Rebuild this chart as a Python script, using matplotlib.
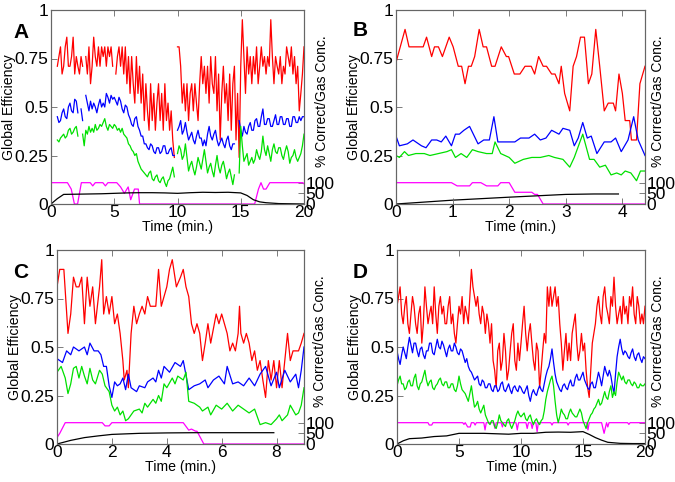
import numpy as np
import matplotlib
matplotlib.use("Agg")
import matplotlib.pyplot as plt

plt.rcParams['font.family'] = ['Liberation Sans', 'DejaVu Sans']
nan = np.nan

# ---------------- Panel A (0.5-20 min, sampled every 0.125 min) ----------------
a_start, a_end = 0.5, 20.0
a_red = [0.71, 0.76, 0.81, 0.67, 0.71, 0.81, 0.86, 0.71, 0.71, 0.76, 0.86, 0.67, 0.76, 0.71, 0.67, 0.76, 0.71,
         nan, 0.76, 0.67, 0.81, 0.62, 0.71, 0.86, 0.76, 0.71, 0.81, 0.71, 0.81, 0.76, 0.81, 0.71, 0.81, 0.76, 0.81, 0.71, nan,
         0.67, 0.76, 0.81, 0.71, 0.81, 0.67, 0.81, 0.62, 0.76, 0.57, 0.76, 0.62, 0.52, 0.76, 0.57, 0.71, 0.52, 0.67, 0.43, 0.62,
         0.48, 0.38, 0.62, 0.43, 0.57, 0.38, 0.52, 0.62, 0.43, 0.57, 0.38, 0.62, 0.43, 0.52, 0.38, 0.48, 0.33, 0.24, nan,
         0.81, 0.81, 0.71, 0.52, 0.62, 0.48, 0.62, 0.43, 0.57, 0.62, 0.48, 0.62, 0.52, 0.43, 0.62, 0.76, 0.62, 0.71, 0.57, 0.71,
         0.52, 0.76, 0.62, 0.57, 0.76, 0.48, 0.67, 0.33, 0.57, 0.71, 0.52, 0.62, 0.43, 0.67, 0.38, 0.62, 0.71, 0.33, 0.57, 0.24, 0.71,
         0.95, 0.76, 0.57, 0.81, 0.67, 0.76, 0.62, 0.76, 0.67, 0.81, 0.62, 0.71, 0.81, 0.71, 0.76, 0.67, 0.76, 0.71, 0.95, 0.76,
         0.62, 0.76, 0.71, 0.67, 0.76, 0.62, 0.71, 0.67, 0.81, 0.76, 0.71, 0.81, 0.67, 0.76, 0.62, 0.71, 0.48, 0.57, 0.67, 0.81]
a_blue = [0.45, 0.42, 0.43, 0.47, 0.49, 0.45, 0.44, 0.50, 0.52, 0.48, 0.47, 0.54, 0.53, 0.47, nan, 0.49, 0.43,
          nan, 0.56, 0.52, 0.48, 0.53, 0.49, 0.52, 0.50, 0.47, 0.51, 0.54, 0.50, 0.52, 0.50, 0.57, 0.55, 0.52, 0.56, 0.54, 0.55,
          0.53, 0.51, 0.55, 0.53, 0.49, 0.47, 0.51, 0.50, 0.46, 0.44, 0.41, 0.40, 0.44, 0.45, 0.40, 0.38, 0.35, 0.35, 0.31, 0.31,
          0.29, 0.28, 0.31, 0.30, 0.27, 0.26, 0.29, 0.29, 0.26, 0.27, 0.30, 0.30, 0.26, 0.26, 0.28, 0.29, 0.25, 0.25, nan,
          0.38, 0.40, 0.43, 0.36, 0.38, 0.42, 0.37, 0.33, 0.35, 0.37, 0.33, 0.31, 0.35, 0.38, 0.34, 0.34, 0.30, 0.33, 0.30, 0.36,
          0.40, 0.35, 0.33, 0.36, 0.38, 0.33, 0.30, 0.32, 0.34, 0.31, 0.29, 0.33, 0.35, 0.30, 0.28, 0.31, 0.31, nan, nan, 0.43, 0.38,
          0.35, 0.40, 0.37, 0.36, 0.40, 0.42, 0.38, 0.38, 0.43, 0.44, 0.40, 0.40, 0.45, 0.49, 0.41, 0.41, 0.44, 0.44, 0.40, 0.40,
          0.43, 0.46, 0.41, 0.41, 0.45, 0.45, 0.41, 0.41, 0.44, 0.44, 0.40, 0.40, 0.45, 0.45, 0.42, 0.42, 0.45, 0.43, 0.45, 0.45]
a_green = [0.33, 0.32, 0.34, 0.35, 0.36, 0.34, 0.35, 0.38, 0.39, 0.36, 0.37, 0.39, 0.40, 0.35, nan, nan, 0.36,
           0.30, 0.38, 0.36, 0.40, 0.37, 0.39, 0.37, 0.41, 0.38, 0.39, 0.41, 0.40, 0.42, 0.44, 0.40, 0.38, 0.41, 0.40, 0.39, 0.41,
           0.40, 0.38, 0.39, 0.37, 0.39, 0.36, 0.35, 0.34, 0.31, 0.30, 0.28, 0.27, 0.25, 0.26, 0.22, 0.20, 0.18, 0.17, 0.16, 0.15,
           0.14, 0.16, 0.17, 0.13, 0.12, 0.14, 0.15, 0.12, 0.11, 0.13, 0.14, 0.11, 0.09, 0.12, 0.13, 0.16, 0.19, 0.14, nan,
           0.26, 0.30, 0.28, 0.23, 0.25, 0.31, 0.24, 0.17, 0.20, 0.22, 0.18, 0.15, 0.19, 0.24, 0.21, 0.18, 0.23, 0.28, 0.22, 0.16,
           0.19, 0.21, 0.17, 0.14, 0.20, 0.25, 0.19, 0.16, 0.20, 0.22, 0.18, 0.13, 0.16, 0.18, 0.14, 0.10, 0.15, nan, nan, 0.16, 0.40,
           0.30, 0.22, 0.24, 0.26, 0.20, 0.22, 0.24, 0.21, 0.23, 0.28, 0.25, 0.23, 0.27, 0.35, 0.28, 0.25, 0.30, 0.26, 0.22, 0.28,
           0.31, 0.27, 0.26, 0.29, 0.29, 0.25, 0.23, 0.27, 0.30, 0.27, 0.21, 0.24, 0.25, 0.28, 0.24, 0.22, 0.24, 0.26, 0.30, 0.36]
a_mag_t = [0, 1.3, 1.6, 1.85, 2.1, 2.4, 3.1, 3.3, 3.5, 4.1, 4.3, 4.5, 5.2, 5.5, 5.8,
           6.1, 6.3, 6.6, 6.9, 7.0, 16.1, 16.4, 16.6, 16.8, 17.0, 17.3, 19.9, 20]
a_mag_v = [100, 100, 70, 0, 0, 100, 100, 85, 100, 100, 85, 100, 100, 80, 50,
           80, 20, 70, 70, 0, 0, 70, 100, 70, 70, 100, 100, 95]
a_gas_t = [0, 0.5, 1.0, 2, 3, 4, 5, 6, 7, 8, 9, 10, 11, 12, 13, 14, 15,
           15.5, 16, 16.5, 17, 18, 19, 20]
a_gas_v = [0, 25, 45, 46, 47, 48, 50, 52, 53, 53, 52, 50, 53, 55, 54, 55, 52,
           40, 20, 10, 6, 2, 1, 0]

# ---------------- Panel B (0-4.4 min) ----------------
b_red_t = [0, 0.16, 0.23, 0.48, 0.54, 0.63, 0.68, 0.75, 0.82, 0.94, 1.01, 1.10,
           1.16, 1.22, 1.28, 1.33, 1.39, 1.47, 1.54, 1.60, 1.69, 1.75, 1.86,
           1.95, 1.99, 2.09, 2.19, 2.28, 2.39, 2.45, 2.52, 2.60, 2.66, 2.75,
           2.81, 2.88, 2.92, 2.98, 3.07, 3.13, 3.19, 3.26, 3.33, 3.40, 3.46,
           3.53, 3.60, 3.68, 3.75, 3.84, 3.88, 3.94, 4.00, 4.05, 4.13, 4.16,
           4.25, 4.31, 4.40]
b_red = [0.73, 0.90, 0.81, 0.81, 0.86, 0.76, 0.81, 0.81, 0.76, 0.86, 0.81, 0.71,
         0.71, 0.62, 0.71, 0.71, 0.76, 0.90, 0.81, 0.81, 0.71, 0.71, 0.81,
         0.76, 0.76, 0.67, 0.67, 0.71, 0.71, 0.67, 0.76, 0.71, 0.71, 0.67,
         0.67, 0.62, 0.71, 0.57, 0.48, 0.71, 0.76, 0.86, 0.86, 0.62, 0.67,
         0.90, 0.71, 0.48, 0.52, 0.52, 0.48, 0.67, 0.57, 0.43, 0.43, 0.33,
         0.33, 0.62, 0.71]
b_blue_t = [0, 0.06, 0.2, 0.3, 0.45, 0.53, 0.63, 0.72, 0.8, 0.88, 0.98, 1.05,
            1.12, 1.2, 1.3, 1.45, 1.55, 1.65, 1.73, 1.8, 1.95, 2.1, 2.2, 2.35,
            2.45, 2.55, 2.65, 2.75, 2.88, 2.95, 3.07, 3.15, 3.22, 3.3, 3.38,
            3.45, 3.55, 3.68, 3.8, 3.88, 3.98, 4.1, 4.2, 4.28, 4.4]
b_blue = [0.35, 0.30, 0.31, 0.33, 0.30, 0.29, 0.33, 0.33, 0.32, 0.35, 0.30, 0.36,
          0.36, 0.38, 0.40, 0.31, 0.33, 0.33, 0.45, 0.32, 0.32, 0.32, 0.34, 0.34,
          0.36, 0.33, 0.34, 0.38, 0.36, 0.39, 0.38, 0.30, 0.34, 0.42, 0.34,
          0.35, 0.26, 0.32, 0.32, 0.34, 0.27, 0.33, 0.45, 0.33, 0.25]
b_green_t = [0, 0.06, 0.15, 0.22, 0.35, 0.5, 0.6, 0.75, 0.9, 0.98, 1.05, 1.15,
             1.25, 1.35, 1.45, 1.6, 1.7, 1.75, 1.85, 2.0, 2.1, 2.25, 2.4, 2.55,
             2.7, 2.8, 2.95, 3.07, 3.15, 3.3, 3.42, 3.5, 3.6, 3.7, 3.8, 3.9,
             3.98, 4.05, 4.15, 4.25, 4.32, 4.4]
b_green = [0.25, 0.24, 0.27, 0.25, 0.26, 0.26, 0.25, 0.26, 0.27, 0.28, 0.24, 0.26,
           0.24, 0.28, 0.27, 0.26, 0.26, 0.32, 0.26, 0.24, 0.21, 0.23, 0.24, 0.24,
           0.25, 0.24, 0.23, 0.19, 0.24, 0.36, 0.23, 0.23, 0.19, 0.20, 0.15, 0.16,
           0.15, 0.17, 0.16, 0.12, 0.17, 0.17]
b_mag_t = [0, 0.98, 1.08, 1.3, 1.35, 1.5, 1.6, 1.8, 1.85, 2.0, 2.1, 2.4, 2.45,
           2.5, 2.6, 4.4]
b_mag_v = [100, 100, 85, 85, 100, 100, 85, 85, 100, 100, 55, 55, 45, 45, 0, 0]
b_gas_t = [0, 1, 2, 3, 3.5, 3.93]
b_gas_v = [0, 18, 32, 45, 47, 47]

# ---------------- Panel C (0-9 min) ----------------
c_red_t = [0, 0.1, 0.25, 0.4, 0.5, 0.6, 0.7, 0.8, 0.9, 1.0, 1.1, 1.2, 1.3, 1.4,
           1.55, 1.63, 1.7, 1.8, 1.9, 2.0, 2.1, 2.2, 2.3, 2.4, 2.45, 2.55, 2.6,
           2.7, 2.8, 2.9, 3.0, 3.1, 3.2, 3.3, 3.4, 3.6, 3.7, 3.8, 3.9, 4.0,
           4.1, 4.2, 4.35, 4.5, 4.6, 4.7, 4.8, 4.9, 5.0, 5.1, 5.2, 5.3, 5.4,
           5.5, 5.6, 5.8, 5.9, 6.0, 6.2, 6.3, 6.4, 6.5, 6.6, 6.65, 6.7, 6.8,
           6.9, 7.0, 7.1, 7.2, 7.3, 7.4, 7.5, 7.6, 7.7, 7.8, 7.9, 8.0, 8.1,
           8.2, 8.3, 8.4, 8.5, 8.6, 8.8, 8.9, 9.0]
c_red = [0.81, 0.90, 0.90, 0.57, 0.67, 0.86, 0.81, 0.81, 0.86, 0.62, 0.86, 0.71,
         0.81, 0.62, 0.81, 0.95, 0.67, 0.76, 0.67, 0.76, 0.62, 0.67, 0.57, 0.43,
         0.33, 0.38, 0.29, 0.57, 0.71, 0.62, 0.67, 0.71, 0.67, 0.76, 0.71, 0.71,
         0.90, 0.71, 0.76, 0.81, 0.90, 0.95, 0.81, 0.86, 0.90, 0.81, 0.76, 0.62,
         0.57, 0.62, 0.57, 0.43, 0.52, 0.62, 0.52, 0.67, 0.62, 0.67, 0.57, 0.48,
         0.52, 0.48, 0.57, 0.71, 0.57, 0.52, 0.57, 0.52, 0.43, 0.48, 0.38, 0.43,
         0.33, 0.24, 0.43, 0.33, 0.43, 0.29, 0.43, 0.29, 0.43, 0.57, 0.43, 0.48,
         0.48, 0.52, 0.57]
c_blue_t = [0, 0.2, 0.35, 0.5, 0.6, 0.8, 1.0, 1.1, 1.2, 1.35, 1.5, 1.6, 1.7, 1.8,
            1.9, 2.0, 2.1, 2.2, 2.3, 2.4, 2.5, 2.6, 2.7, 2.9, 3.0, 3.2, 3.3,
            3.5, 3.6, 3.7, 3.8, 3.9, 4.1, 4.3, 4.5, 4.6, 4.8, 5.0, 5.2, 5.4,
            5.5, 5.7, 5.9, 6.1, 6.2, 6.4, 6.6, 6.8, 7.0, 7.2, 7.4, 7.6, 7.8,
            8.0, 8.1, 8.3, 8.5, 8.7, 8.8, 8.9, 9.0]
c_blue = [0.44, 0.42, 0.48, 0.46, 0.50, 0.48, 0.50, 0.46, 0.52, 0.48, 0.48, 0.46,
          0.40, 0.40, 0.30, 0.24, 0.32, 0.30, 0.31, 0.34, 0.28, 0.36, 0.29, 0.27,
          0.30, 0.29, 0.32, 0.34, 0.32, 0.38, 0.34, 0.40, 0.37, 0.42, 0.40, 0.43,
          0.28, 0.30, 0.31, 0.33, 0.29, 0.33, 0.35, 0.31, 0.40, 0.31, 0.32, 0.30,
          0.34, 0.30, 0.36, 0.40, 0.30, 0.37, 0.29, 0.38, 0.32, 0.36, 0.29, 0.38,
          0.50]
c_green_t = [0, 0.15, 0.3, 0.4, 0.5, 0.6, 0.7, 0.8, 0.9, 1.0, 1.1, 1.2, 1.3, 1.4,
             1.55, 1.65, 1.75, 1.9, 2.0, 2.1, 2.2, 2.3, 2.4, 2.5, 2.6, 2.8, 3.0,
             3.1, 3.2, 3.3, 3.5, 3.6, 3.7, 3.8, 3.9, 4.0, 4.2, 4.3, 4.4, 4.6,
             4.7, 4.8, 5.0, 5.2, 5.3, 5.5, 5.6, 5.8, 6.0, 6.2, 6.4, 6.6, 6.8,
             7.0, 7.2, 7.4, 7.6, 7.8, 8.0, 8.1, 8.2, 8.4, 8.5, 8.7, 8.8, 8.9, 9.0]
c_green = [0.37, 0.40, 0.34, 0.26, 0.31, 0.39, 0.40, 0.34, 0.40, 0.35, 0.31, 0.39,
           0.33, 0.31, 0.38, 0.36, 0.30, 0.27, 0.20, 0.17, 0.19, 0.15, 0.17, 0.12,
           0.13, 0.17, 0.18, 0.16, 0.21, 0.19, 0.23, 0.21, 0.25, 0.22, 0.31, 0.29,
           0.34, 0.31, 0.35, 0.33, 0.37, 0.22, 0.21, 0.19, 0.17, 0.19, 0.15, 0.20,
           0.18, 0.21, 0.17, 0.20, 0.18, 0.16, 0.18, 0.10, 0.11, 0.10, 0.13, 0.15,
           0.12, 0.15, 0.20, 0.15, 0.16, 0.20, 0.29]
c_mag_t = [0, 0.1, 0.3, 1.65, 1.75, 1.9, 2.0, 4.6, 4.8, 4.9, 5.05, 5.1, 5.35, 9.0]
c_mag_v = [30, 50, 100, 100, 85, 85, 100, 100, 65, 70, 60, 60, 0, 0]
c_gas_t = [0, 0.5, 1.0, 1.5, 2.0, 3.0, 4.0, 5.0, 6.0, 7.0, 7.9]
c_gas_v = [0, 17, 30, 38, 45, 50, 52, 53, 53, 53, 53]

# ---------------- Panel D (0-20 min, sampled every 0.125 min) ----------------
d_start, d_end = 0.0, 20.0
d_red = [0.71, 0.76, 0.81, 0.67, 0.62, 0.71, 0.76, 0.62, 0.57, 0.67, 0.76, 0.71, 0.62, 0.57, 0.67, 0.71, 0.52, 0.62, 0.81, 0.71,
         0.62, 0.67, 0.71, 0.62, 0.81, 0.67, 0.57, 0.71, 0.76, 0.67, 0.71, 0.62, 0.62, 0.71, 0.76, 0.62, 0.67, 0.57, 0.52, 0.62,
         0.71, 0.67, 0.76, 0.62, 0.71, 0.67, 0.62, 0.76, 0.90, 0.81, 0.76, 0.71, 0.76, 0.67, 0.62, 0.71, 0.67, 0.57, 0.67, 0.62,
         0.52, 0.62, 0.43, 0.38, 0.29, 0.48, 0.52, 0.38, 0.43, 0.57, 0.48, 0.33, 0.38, 0.48, 0.57, 0.62, 0.43, 0.38, 0.52, 0.43,
         0.52, 0.62, 0.71, 0.57, 0.48, 0.57, 0.62, 0.52, 0.43, 0.38, 0.52, 0.48, 0.29, 0.38, 0.48, 0.57, 0.52, 0.81, 0.71, 0.81,
         0.71, 0.76, 0.81, 0.71, 0.76, 0.62, 0.52, 0.38, 0.48, 0.57, 0.43, 0.52, 0.43, 0.57, 0.62, 0.67, 0.52, 0.43, 0.48, 0.57,
         0.48, 0.52, 0.38, 0.29, 0.24, 0.38, 0.52, 0.57, 0.62, 0.71, 0.76, 0.67, 0.62, 0.76, 0.81, 0.71, 0.67, 0.62, 0.76, 0.71,
         0.86, 0.71, 0.62, 0.67, 0.71, 0.62, 0.76, 0.67, 0.71, 0.62, 0.76, 0.71, 0.81, 0.67, 0.62, 0.76, 0.71, 0.62, 0.67, 0.62,
         0.71]
d_blue = [0.48, 0.44, 0.41, 0.46, 0.50, 0.47, 0.44, 0.50, 0.55, 0.51, 0.47, 0.52, 0.52, 0.48, 0.45, 0.49, 0.50, 0.46, 0.44, 0.48,
          0.48, 0.52, 0.52, 0.47, 0.46, 0.50, 0.54, 0.50, 0.49, 0.53, 0.51, 0.48, 0.45, 0.49, 0.51, 0.48, 0.48, 0.52, 0.50, 0.47,
          0.46, 0.49, 0.48, 0.45, 0.42, 0.44, 0.40, 0.38, 0.37, 0.35, 0.33, 0.34, 0.35, 0.31, 0.30, 0.33, 0.32, 0.29, 0.29, 0.31,
          0.31, 0.28, 0.27, 0.30, 0.30, 0.27, 0.28, 0.31, 0.32, 0.28, 0.27, 0.29, 0.31, 0.28, 0.26, 0.29, 0.30, 0.28, 0.27, 0.30,
          0.29, 0.27, 0.26, 0.28, 0.30, 0.25, 0.22, 0.26, 0.28, 0.26, 0.25, 0.28, 0.30, 0.28, 0.27, 0.31, 0.35, 0.38, 0.40, 0.44,
          0.49, 0.42, 0.36, 0.32, 0.30, 0.28, 0.27, 0.30, 0.31, 0.29, 0.28, 0.31, 0.33, 0.30, 0.30, 0.34, 0.36, 0.33, 0.33, 0.35,
          0.37, 0.33, 0.31, 0.29, 0.28, 0.31, 0.32, 0.29, 0.29, 0.33, 0.37, 0.34, 0.30, 0.35, 0.40, 0.37, 0.35, 0.38, 0.35, 0.30,
          0.26, 0.36, 0.45, 0.50, 0.54, 0.49, 0.46, 0.48, 0.47, 0.45, 0.44, 0.47, 0.49, 0.45, 0.43, 0.46, 0.47, 0.44, 0.42, 0.45,
          0.44]
d_green = [0.30, 0.33, 0.35, 0.31, 0.31, 0.28, 0.29, 0.32, 0.33, 0.30, 0.30, 0.34, 0.36, 0.30, 0.28, 0.31, 0.32, 0.35, 0.38, 0.33,
           0.30, 0.32, 0.33, 0.29, 0.28, 0.30, 0.31, 0.33, 0.34, 0.31, 0.30, 0.32, 0.32, 0.29, 0.29, 0.31, 0.31, 0.28, 0.27, 0.30,
           0.35, 0.31, 0.28, 0.27, 0.26, 0.24, 0.22, 0.26, 0.30, 0.24, 0.19, 0.20, 0.22, 0.18, 0.16, 0.18, 0.20, 0.15, 0.13, 0.11,
           0.10, 0.12, 0.12, 0.09, 0.08, 0.11, 0.15, 0.12, 0.11, 0.10, 0.09, 0.12, 0.13, 0.10, 0.08, 0.10, 0.12, 0.15, 0.17, 0.15,
           0.14, 0.15, 0.16, 0.13, 0.12, 0.14, 0.15, 0.12, 0.10, 0.12, 0.13, 0.11, 0.10, 0.12, 0.13, 0.17, 0.23, 0.27, 0.30, 0.33,
           0.35, 0.30, 0.22, 0.15, 0.11, 0.14, 0.18, 0.16, 0.15, 0.13, 0.13, 0.16, 0.18, 0.16, 0.15, 0.14, 0.14, 0.16, 0.18, 0.16,
           0.12, 0.10, 0.08, 0.11, 0.13, 0.15, 0.16, 0.18, 0.19, 0.21, 0.23, 0.20, 0.21, 0.24, 0.27, 0.24, 0.23, 0.27, 0.30, 0.24,
           0.27, 0.25, 0.32, 0.37, 0.35, 0.33, 0.35, 0.32, 0.31, 0.33, 0.33, 0.31, 0.30, 0.32, 0.31, 0.29, 0.29, 0.31, 0.30, 0.30,
           0.31]
d_mag_t = [0, 2.5, 2.6, 2.8, 2.9, 5.3, 5.4, 5.5, 5.7, 5.9, 6.0, 6.2, 6.3, 6.4,
           7.0, 7.1, 7.2, 7.8, 7.9, 8.0, 8.4, 8.5, 8.6, 9.6, 9.7, 9.8, 10.4,
           10.5, 10.6, 10.8, 10.9, 11.0, 11.2, 11.3, 11.4, 12.4, 12.5, 12.6,
           13.7, 13.8, 13.9, 15.3, 15.4, 15.5, 16.5, 16.7, 16.9, 17.0, 17.1,
           18.6, 18.7, 18.8, 20]
d_mag_v = [100, 100, 89, 89, 100, 100, 92, 100, 80, 80, 100, 100, 89, 100,
           100, 66, 100, 100, 73, 100, 100, 80, 100, 100, 66, 100, 100,
           73, 100, 100, 73, 100, 100, 58, 100, 100, 89, 100,
           100, 89, 100, 100, 66, 100, 100, 50, 100, 80, 100,
           100, 92, 100, 100]
d_gas_t = [0, 0.5, 1, 2, 3, 4, 5, 6, 7, 8, 9, 10, 11, 12, 13, 14, 15, 15.5,
           16, 16.5, 17, 18, 19, 20]
d_gas_v = [0, 15, 25, 28, 35, 38, 50, 50, 50, 48, 46, 50, 50, 55, 56, 55, 58,
           45, 30, 18, 8, 3, 2, 2]

# ---------------- Figure ----------------
fig = plt.figure(figsize=(6.75, 4.82), dpi=100)

panels = [
    dict(letter='A', rect=(51, 10, 304, 204), letter_xy=(13, 32), rlab_off=11,
         xlim=(0, 20), xticks=[0, 5, 10, 15, 20],
         red=(np.linspace(a_start, a_end, len(a_red)), a_red),
         blue=(np.linspace(a_start, a_end, len(a_blue)), a_blue),
         green=(np.linspace(a_start, a_end, len(a_green)), a_green),
         mag=(a_mag_t, a_mag_v), gas=(a_gas_t, a_gas_v)),
    dict(letter='B', rect=(396, 10, 645, 204), letter_xy=(353, 31), rlab_off=6,
         xlim=(0, 4.4), xticks=[0, 1, 2, 3, 4],
         red=(b_red_t, b_red), blue=(b_blue_t, b_blue), green=(b_green_t, b_green),
         mag=(b_mag_t, b_mag_v), gas=(b_gas_t, b_gas_v)),
    dict(letter='C', rect=(57, 250, 304, 444), letter_xy=(13, 272), rlab_off=9,
         xlim=(0, 9), xticks=[0, 2, 4, 6, 8],
         red=(c_red_t, c_red), blue=(c_blue_t, c_blue), green=(c_green_t, c_green),
         mag=(c_mag_t, c_mag_v), gas=(c_gas_t, c_gas_v)),
    dict(letter='D', rect=(397, 250, 645, 444), letter_xy=(353, 272), rlab_off=6,
         xlim=(0, 20), xticks=[0, 5, 10, 15, 20],
         red=(np.linspace(d_start, d_end, len(d_red)), d_red),
         blue=(np.linspace(d_start, d_end, len(d_blue)), d_blue),
         green=(np.linspace(d_start, d_end, len(d_green)), d_green),
         mag=(d_mag_t, d_mag_v), gas=(d_gas_t, d_gas_v)),
]

W, H = 675, 482
spine_col = '#666666'
tick_font = ['Liberation Sans Narrow', 'Liberation Sans', 'DejaVu Sans']
for p in panels:
    x0, y0, x1, y1 = p['rect']
    wpx = x1 - x0
    ax = fig.add_axes([x0 / W, 1 - y1 / H, wpx / W, (y1 - y0) / H])
    ax2 = ax.twinx()
    lw = 0.9
    ax2.plot(p['mag'][0], p['mag'][1], color='#ff00ff', lw=lw)
    ax2.plot(p['gas'][0], p['gas'][1], color='black', lw=lw)
    ax.plot(*p['red'], color='#ff0000', lw=lw)
    ax.plot(*p['blue'], color='#0000ff', lw=lw)
    ax.plot(*p['green'], color='#00e000', lw=lw)
    ax.set_zorder(ax2.get_zorder() + 1)
    ax.patch.set_visible(False)

    ax.set_xlim(*p['xlim'])
    ax.set_ylim(0, 1)
    ax2.set_ylim(0, 910)
    ax.set_xticks(p['xticks'])
    ax.set_xticklabels([str(v) for v in p['xticks']])
    ax.set_yticks([0, 0.25, 0.5, 0.75, 1])
    ax.set_yticklabels(['0', '0.25', '0.5', '0.75', '1'])
    ax2.set_yticks([0, 50, 100])
    ax2.set_yticklabels(['0', '50', '100'])
    ax.tick_params(axis='both', direction='in', length=4, width=0.6, labelsize=12.5,
                   pad=1, top=True, colors=spine_col, labelcolor='black')
    ax.tick_params(axis='y', pad=2)
    ax2.tick_params(axis='y', direction='in', length=4, width=0.6, labelsize=12.5,
                    pad=1, colors=spine_col, labelcolor='black')
    for lab in ax.get_xticklabels() + ax.get_yticklabels() + ax2.get_yticklabels():
        lab.set_family(tick_font)
    for a in (ax, ax2):
        for s in a.spines.values():
            s.set_color(spine_col)
            s.set_linewidth(0.8)
    ax.set_xlabel('Time (min.)', fontsize=10.2, labelpad=0)
    ax.set_ylabel('Global Efficiency', fontsize=10.2)
    ax.yaxis.set_label_coords(-35 / wpx, 0.5)
    ax2.set_ylabel('% Correct/Gas Conc.', fontsize=10)
    ax2.yaxis.set_label_coords(1 + p['rlab_off'] / wpx, 0.53)
    lx, ly = p['letter_xy']
    fig.text(lx / W, 1 - ly / H, p['letter'], fontsize=15, fontweight='bold',
             va='center', ha='left')

fig.savefig('out.png', dpi=100)
